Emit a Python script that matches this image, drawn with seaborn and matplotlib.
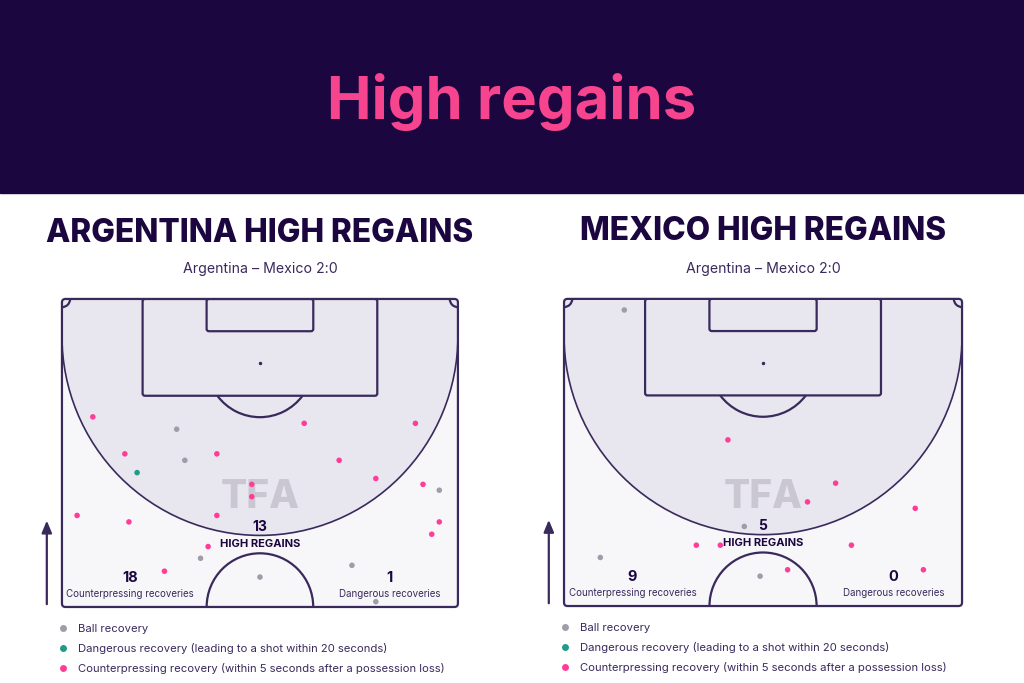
# High regains - Argentina vs Mexico
# two half pitches with ball recoveries in the attacking half

import numpy as np
import pandas as pd
import matplotlib.pyplot as plt
import matplotlib.patches as patches
from matplotlib.lines import Line2D
import seaborn as sns

# Data (pitch coordinates in metres: x across 0-68, y from halfway line 0 to goal line 52.5)
arg_counter_x = [5.3, 10.8, 26.6, 41.6, 60.7, 47.6, 53.9, 32.6, 32.6, 26.6, 2.6, 11.5, 62.0, 64.8, 63.5, 25.1, 17.6]
arg_counter_y = [32.4, 26.1, 26.1, 31.3, 31.3, 25.0, 21.9, 20.9, 18.8, 15.6, 15.6, 14.5, 20.9, 14.5, 12.4, 10.3, 6.1]
arg_ball_x = [19.7, 21.1, 64.8, 23.8, 49.8, 34.0, 53.9]
arg_ball_y = [30.3, 25.0, 19.9, 8.3, 7.1, 5.1, 0.9]
arg_danger_x = [12.9]
arg_danger_y = [22.9]

mex_counter_x = [28.0, 46.4, 41.6, 60.0, 22.6, 26.7, 49.1, 38.2, 61.4]
mex_counter_y = [28.4, 21.0, 17.8, 16.7, 10.4, 10.4, 10.4, 6.2, 6.2]
mex_ball_x = [10.3, 30.8, 6.2, 33.5]
mex_ball_y = [50.6, 13.6, 8.3, 5.1]
mex_danger_x = []
mex_danger_y = []

teams = ["ARGENTINA", "MEXICO"]
high_regains = [13, 5]
counter_totals = [18, 9]
danger_totals = [1, 0]
match_label = "Argentina – Mexico 2:0"

legend_labels = ["Ball recovery",
                 "Dangerous recovery (leading to a shot within 20 seconds)",
                 "Counterpressing recovery (within 5 seconds after a possession loss)"]

# colours
navy = "#1b0640"
pink = "#f7448f"
line_col = "#3a2a5c"
shade = "#e8e6ee"
grass = "#f7f6f9"
palette = {"ball": "#a19ca9", "danger": "#1f9b88", "counter": "#ff3d98"}


def make_df(cx, cy, bx, by, dx, dy):
    frames = [pd.DataFrame({"x": bx, "y": by, "type": "ball"}),
              pd.DataFrame({"x": dx, "y": dy, "type": "danger"}),
              pd.DataFrame({"x": cx, "y": cy, "type": "counter"})]
    return pd.concat(frames, ignore_index=True)


dfs = [make_df(arg_counter_x, arg_counter_y, arg_ball_x, arg_ball_y, arg_danger_x, arg_danger_y),
       make_df(mex_counter_x, mex_counter_y, mex_ball_x, mex_ball_y, mex_danger_x, mex_danger_y)]


def draw_pitch(ax):
    ax.set_facecolor(grass)
    lw = 1.6
    # shaded high regain zone
    cy = 46.2
    ax.add_patch(patches.Wedge((34, cy), 34, 180, 360, color=shade, lw=0, zorder=0))
    ax.add_patch(patches.Rectangle((0, cy), 68, 52.5 - cy, color=shade, lw=0, zorder=0))
    ax.add_patch(patches.Arc((34, cy), 68, 68, theta1=180, theta2=360, color=line_col, lw=1.2, zorder=1))
    # outline
    ax.add_patch(patches.FancyBboxPatch((0, 0), 68, 52.5, boxstyle="round,pad=0,rounding_size=0.6",
                                        fill=False, ec=line_col, lw=lw, clip_on=False, zorder=2))
    # penalty box, six yard box
    ax.add_patch(patches.FancyBboxPatch((13.85, 36.0), 40.3, 16.5, boxstyle="round,pad=0,rounding_size=0.4",
                                        fill=False, ec=line_col, lw=lw, zorder=2))
    ax.add_patch(patches.FancyBboxPatch((24.84, 47.0), 18.32, 5.5, boxstyle="round,pad=0,rounding_size=0.4",
                                        fill=False, ec=line_col, lw=lw, zorder=2))
    ax.plot([34], [41.5], marker="o", ms=1.5, color=line_col, zorder=2)
    ax.add_patch(patches.Arc((34, 41.5), 18.3, 18.3, theta1=217, theta2=323, color=line_col, lw=lw, zorder=2))
    # centre circle
    ax.add_patch(patches.Arc((34, 0), 18.3, 18.3, theta1=0, theta2=180, color=line_col, lw=lw, zorder=2))
    # corner arcs
    ax.add_patch(patches.Arc((0, 52.5), 2.8, 2.8, theta1=270, theta2=360, color=line_col, lw=lw, zorder=2))
    ax.add_patch(patches.Arc((68, 52.5), 2.8, 2.8, theta1=180, theta2=270, color=line_col, lw=lw, zorder=2))
    # direction of play arrow
    ax.annotate("", xy=(-2.6, 15.2), xytext=(-2.6, 0), annotation_clip=False,
                arrowprops=dict(arrowstyle="-|>,head_length=0.6,head_width=0.25", color=line_col, lw=1.6))
    ax.set_xlim(0, 68)
    ax.set_ylim(0, 52.5)
    ax.set_xticks([])
    ax.set_yticks([])
    for s in ax.spines.values():
        s.set_visible(False)


sns.set_theme(style="white")
plt.rcParams["font.family"] = ["Inter", "DejaVu Sans"]

fig = plt.figure(figsize=(10.24, 6.83), dpi=100)
fig.patch.set_facecolor("white")

# banner
fig.patches.append(patches.Rectangle((0, 0.7174), 1, 0.2826, transform=fig.transFigure,
                                     color=navy, zorder=0))
fig.text(0.5, 0.851, "High regains", color=pink, fontsize=43, fontweight="bold",
         ha="center", va="center")

axes_pos = [[0.0605, 0.1113, 0.3867, 0.451], [0.5508, 0.1127, 0.3887, 0.4497]]
head_y = [0.658, 0.661]

for i, team in enumerate(teams):
    ax = fig.add_axes(axes_pos[i])
    draw_pitch(ax)

    # watermark
    ax.text(34, 16.8, "TFA", fontsize=28, fontweight="heavy", color="#cac7d2",
            ha="center", va="baseline", zorder=1)

    sns.scatterplot(data=dfs[i], x="x", y="y", hue="type", palette=palette, s=16,
                    edgecolor="none", legend=False, ax=ax, zorder=3, clip_on=False)
    ax.set_xlabel("")
    ax.set_ylabel("")

    ax.text(34, 13.6, str(high_regains[i]), fontsize=10, fontweight="bold", color=navy,
            ha="center", va="center", zorder=4)
    ax.text(34, 10.8, "HIGH REGAINS", fontsize=8, fontweight="bold", color=navy,
            ha="center", va="center", zorder=4)
    ax.text(11.7, 5.0, str(counter_totals[i]), fontsize=10.5, fontweight="bold", color=navy,
            ha="center", va="center", zorder=4)
    ax.text(11.7, 2.2, "Counterpressing recoveries", fontsize=7, color=line_col,
            ha="center", va="center", zorder=4)
    ax.text(56.3, 5.0, str(danger_totals[i]), fontsize=10.5, fontweight="bold", color=navy,
            ha="center", va="center", zorder=4)
    ax.text(56.3, 2.2, "Dangerous recoveries", fontsize=7, color=line_col,
            ha="center", va="center", zorder=4)

    # headings
    cx = axes_pos[i][0] + axes_pos[i][2] / 2
    fig.text(cx, head_y[i], team + " HIGH REGAINS", fontsize=22.8, fontweight="heavy",
             color=navy, ha="center", va="center")
    fig.text(cx, 0.606, match_label, fontsize=10.2, color=line_col, ha="center", va="center")

    # legend
    handles = [Line2D([0], [0], marker="o", ls="", ms=5, mfc=palette[k], mec="none")
               for k in ["ball", "danger", "counter"]]
    ax.legend(handles, legend_labels, loc="upper left", bbox_to_anchor=(-0.02, -0.04),
              frameon=False, fontsize=8.1, labelcolor=line_col, handlelength=0.8,
              handletextpad=0.9, labelspacing=0.82, borderaxespad=0)

plt.savefig("out.png", dpi=100, facecolor=fig.get_facecolor())
